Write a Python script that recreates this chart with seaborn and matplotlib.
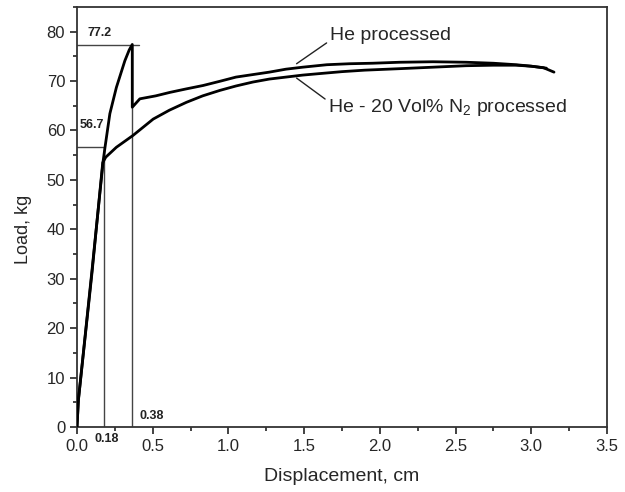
import matplotlib.pyplot as plt
import matplotlib.ticker as mtick
import pandas as pd
import seaborn as sns

sns.set_style('ticks')
plt.rcParams['font.family'] = ['Liberation Sans', 'DejaVu Sans']
plt.rcParams['mathtext.fontset'] = 'custom'
plt.rcParams['mathtext.rm'] = 'Liberation Sans'

# He processed: elastic rise, peak, sudden drop, then plateau
he_x = [0.0, 0.009, 0.10, 0.173, 0.185, 0.217, 0.26, 0.316, 0.345, 0.365,
        0.365, 0.415, 0.52, 0.613, 0.72, 0.833, 0.95, 1.05, 1.16, 1.27,
        1.38, 1.49, 1.65, 1.8, 1.95, 2.13, 2.35, 2.57, 2.75, 2.9, 3.0,
        3.08, 3.15]
he_y = [0.0, 5.4, 32.0, 53.9, 56.6, 63.4, 68.7, 74.1, 76.3, 77.4,
        64.7, 66.4, 67.0, 67.7, 68.4, 69.1, 70.0, 70.8, 71.3, 71.8,
        72.4, 72.8, 73.3, 73.5, 73.6, 73.8, 73.9, 73.8, 73.6, 73.3, 73.0,
        72.7, 71.8]

# He - 20 Vol% N2 processed
n2_x = [0.0, 0.009, 0.10, 0.17, 0.19, 0.26, 0.37, 0.503, 0.61, 0.723,
        0.83, 0.943, 1.05, 1.162, 1.27, 1.38, 1.49, 1.60, 1.75, 1.9,
        2.13, 2.35, 2.57, 2.75, 2.9, 3.0, 3.1]
n2_y = [0.0, 5.4, 31.5, 53.5, 54.6, 56.6, 59.0, 62.3, 64.1, 65.7,
        67.0, 68.1, 69.0, 69.8, 70.4, 70.8, 71.2, 71.5, 71.9, 72.2,
        72.5, 72.8, 73.1, 73.2, 73.2, 73.0, 72.6]

yield_x, yield_load = 0.18, 56.7
peak_x, peak_load = 0.365, 77.2

curves = pd.concat([
    pd.DataFrame({'Displacement': he_x, 'Load': he_y, 'Sample': 'He'}),
    pd.DataFrame({'Displacement': n2_x, 'Load': n2_y, 'Sample': 'He-N2'}),
])

fig, ax = plt.subplots(figsize=(6.25, 4.92), dpi=100)
fig.subplots_adjust(left=0.1232, right=0.9712, bottom=0.132, top=0.986)

# reference lines for yield and peak values
ref = dict(color='#444444', lw=1.0, zorder=1)
ax.plot([yield_x, yield_x], [0, yield_load], **ref)
ax.plot([0, yield_x], [yield_load, yield_load], **ref)
ax.plot([peak_x, peak_x], [0, peak_load], **ref)
ax.plot([0, peak_x + 0.045], [peak_load, peak_load], **ref)

sns.lineplot(data=curves, x='Displacement', y='Load', hue='Sample',
             palette=['black', 'black'], estimator=None, sort=False,
             lw=2.0, legend=False, ax=ax, zorder=3)

ax.set_xlim(0, 3.5)
ax.set_ylim(0, 85)
ax.xaxis.set_major_locator(mtick.MultipleLocator(0.5))
ax.xaxis.set_minor_locator(mtick.MultipleLocator(0.25))
ax.yaxis.set_major_locator(mtick.MultipleLocator(10))
ax.yaxis.set_minor_locator(mtick.MultipleLocator(5))
ax.xaxis.set_major_formatter(mtick.FormatStrFormatter('%.1f'))
ax.tick_params(which='major', direction='out', length=5, width=1.2,
               labelsize=12, color='#222222')
ax.tick_params(which='minor', direction='out', length=3, width=1.2,
               color='#222222')
for s in ax.spines.values():
    s.set_visible(True)
    s.set_linewidth(1.3)
    s.set_color('#333333')

ax.set_xlabel('Displacement, cm', fontsize=14, labelpad=10)
ax.set_ylabel('Load, kg', fontsize=13, labelpad=8)
ax.yaxis.set_label_coords(-0.085, 0.47)

# value labels
small = dict(fontsize=9, fontweight='bold', color='#222222')
ax.text(0.07, 79.8, '77.2', ha='left', va='center', **small)
ax.text(0.02, 61.2, '56.7', ha='left', va='center', **small)
ax.text(0.41, 2.3, '0.38', ha='left', va='center', **small)
ax.text(0.196, -2.5, '0.18', ha='center', va='center', clip_on=False, **small)

# curve annotations
ax.annotate('He processed', xy=(1.45, 73.5), xytext=(1.67, 79.2),
            fontsize=14, va='center', ha='left',
            arrowprops=dict(arrowstyle='-', color='#222222', lw=1.0,
                            shrinkA=0, shrinkB=0, relpos=(0, 0.2)))
ax.annotate('He - 20 Vol% N$_\\mathregular{2}$ processed', xy=(1.45, 70.6),
            xytext=(1.66, 64.6), fontsize=14, va='center', ha='left',
            arrowprops=dict(arrowstyle='-', color='#222222', lw=1.0,
                            shrinkA=0, shrinkB=0, relpos=(0, 0.8)))

plt.savefig('out.png', dpi=100)
